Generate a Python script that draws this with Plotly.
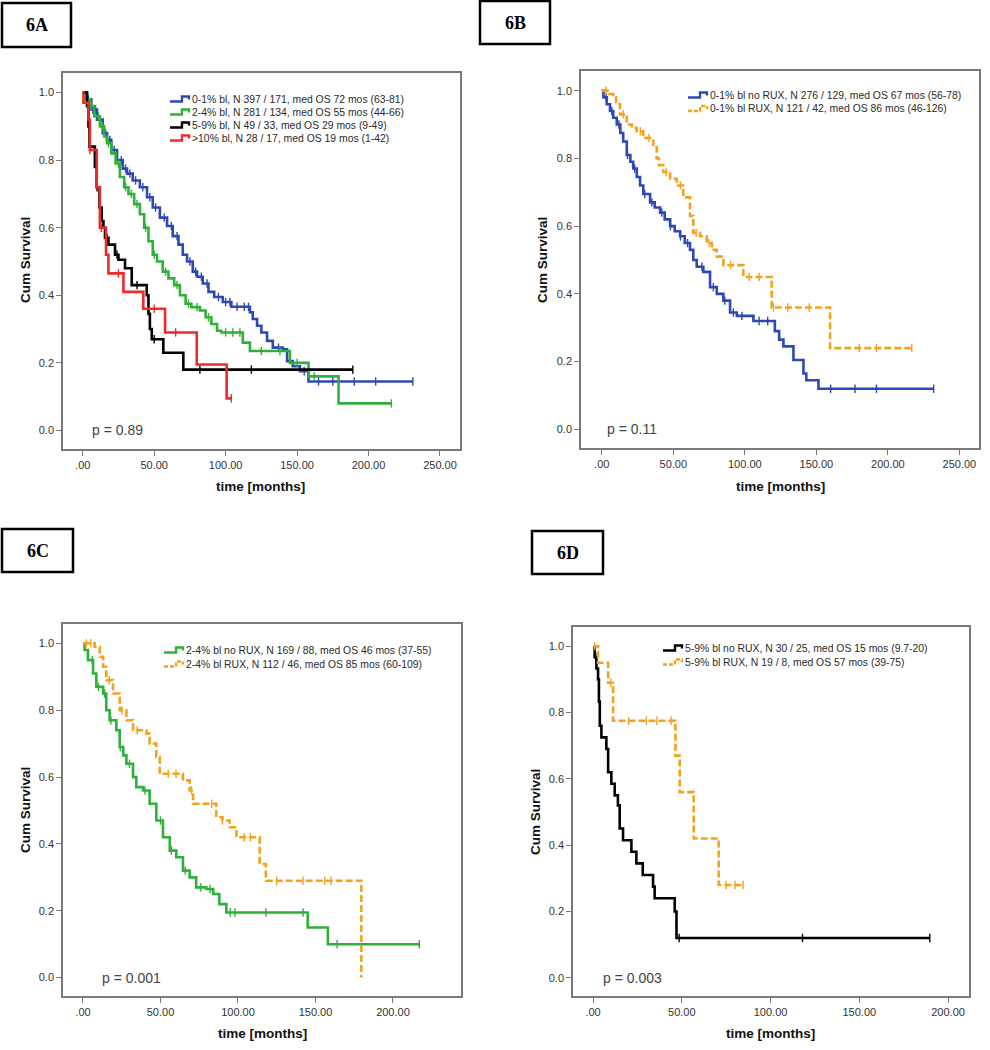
import plotly.graph_objects as go

# ---------------- DATA ----------------
# Panel 6A
a_blue_t = [0, 3, 6, 10, 14, 17, 20, 24, 28, 31, 35, 40, 45, 49, 54, 59, 63, 67, 70, 73, 77, 80, 84, 88, 92, 98, 104, 117, 119, 122, 125, 129, 133, 140, 143, 147, 152, 158, 231]
a_blue_s = [1.0, 0.98, 0.95, 0.92, 0.88, 0.86, 0.83, 0.80, 0.775, 0.76, 0.74, 0.72, 0.69, 0.66, 0.63, 0.605, 0.575, 0.55, 0.52, 0.50, 0.47, 0.455, 0.435, 0.41, 0.395, 0.38, 0.366, 0.35, 0.33, 0.31, 0.29, 0.265, 0.245, 0.24, 0.205, 0.19, 0.175, 0.145, 0.145]
a_blue_c = [4, 7, 9, 12, 16, 19, 22, 27, 30, 33, 37, 42, 47, 51, 57, 62, 66, 75, 79, 83, 87, 95, 100, 103, 108, 113, 116, 137, 155, 165, 175, 190, 205, 231]

a_green_t = [0, 2, 5, 8, 12, 15, 17, 20, 23, 26, 29, 32, 36, 40, 43, 46, 49, 52, 56, 60, 64, 68, 72, 76, 82, 86, 90, 94, 97, 112, 117, 145, 158, 179, 216]
a_green_s = [1.0, 0.98, 0.96, 0.93, 0.90, 0.87, 0.85, 0.82, 0.79, 0.75, 0.72, 0.70, 0.67, 0.64, 0.60, 0.56, 0.52, 0.50, 0.47, 0.45, 0.43, 0.40, 0.375, 0.365, 0.355, 0.335, 0.315, 0.295, 0.29, 0.26, 0.235, 0.20, 0.16, 0.08, 0.08]
a_green_c = [3, 6, 11, 14, 18, 25, 30, 34, 38, 44, 50, 58, 66, 74, 80, 88, 100, 105, 110, 125, 138, 150, 162, 216]

a_black_t = [0, 3, 4, 4.7, 8.5, 9.8, 11.7, 13.3, 14.5, 15.6, 18, 22.6, 25, 29.6, 34.3, 44.8, 46, 47, 48.3, 56.4, 70.4, 189]
a_black_s = [1.0, 0.96, 0.90, 0.84, 0.78, 0.72, 0.66, 0.62, 0.60, 0.57, 0.55, 0.52, 0.505, 0.48, 0.43, 0.40, 0.345, 0.30, 0.27, 0.23, 0.18, 0.18]
a_black_c = [4.3, 10, 17, 24, 38, 50, 82, 118, 189]

a_red_t = [0, 0.5, 4, 5, 9.8, 12, 16.3, 18, 28.5, 42.4, 57.6, 79.8, 100.7, 104]
a_red_s = [1.0, 0.97, 0.92, 0.83, 0.72, 0.60, 0.52, 0.465, 0.41, 0.36, 0.29, 0.195, 0.095, 0.095]
a_red_c = [5, 13, 25, 50, 65, 104]

# Panel 6B
b_blue_t = [0, 1.2, 3.5, 5.8, 8, 10.5, 13, 15, 17.5, 20, 22, 24.5, 26.8, 29, 33.8, 37, 40.8, 44, 47.8, 51, 54.8, 58, 61.7, 64, 66.4, 71, 75.7, 80.4, 85, 89.7, 94.4, 106, 121, 124, 127, 134, 141, 143, 151.5, 232]
b_blue_s = [1.0, 0.98, 0.96, 0.94, 0.92, 0.90, 0.875, 0.85, 0.81, 0.79, 0.77, 0.745, 0.72, 0.695, 0.67, 0.655, 0.64, 0.62, 0.60, 0.585, 0.57, 0.55, 0.53, 0.50, 0.48, 0.465, 0.42, 0.40, 0.38, 0.345, 0.335, 0.32, 0.29, 0.265, 0.245, 0.205, 0.165, 0.145, 0.12, 0.12]
b_blue_c = [3, 7, 12, 18, 23, 30, 35, 42, 48, 55, 60, 70, 78, 86, 92, 98, 110, 116, 160, 177, 192, 232]

b_orange_t = [0, 5, 8, 10, 12.8, 17.5, 21, 24.5, 29, 36, 38.4, 40, 43, 47.8, 52.4, 57, 61.7, 64, 68.7, 73.4, 77, 80.4, 85, 99, 118.8, 159.6, 216.7]
b_orange_s = [1.0, 0.99, 0.98, 0.96, 0.93, 0.90, 0.89, 0.88, 0.86, 0.84, 0.80, 0.78, 0.76, 0.74, 0.72, 0.685, 0.63, 0.58, 0.57, 0.55, 0.53, 0.51, 0.485, 0.45, 0.36, 0.24, 0.24]
b_orange_c = [3, 15, 27, 33, 45, 55, 66, 75, 90, 103, 110, 120, 130, 145, 180, 192, 216.7]

# Panel 6C
c_green_t = [0, 1, 3.2, 6.5, 8.6, 13, 15, 17.2, 21.5, 23.7, 26, 28, 32.3, 34.4, 38.7, 43, 47.3, 51.6, 56, 60.2, 64.5, 68.8, 73, 79.6, 84, 88, 92.5, 145, 158, 217]
c_green_s = [1.0, 0.98, 0.95, 0.91, 0.87, 0.85, 0.80, 0.77, 0.74, 0.69, 0.665, 0.64, 0.60, 0.57, 0.56, 0.52, 0.47, 0.42, 0.38, 0.36, 0.32, 0.30, 0.27, 0.265, 0.25, 0.22, 0.195, 0.15, 0.10, 0.10]
c_green_c = [6, 10, 14, 18, 24, 30, 40, 50, 57, 66, 76, 82, 95, 98, 118, 142, 164, 217]

c_orange_t = [0, 7.5, 10.8, 13, 15, 19.4, 23.7, 28, 32.3, 41, 43, 47.3, 49.5, 64.5, 68.8, 71, 86, 90, 94.6, 99, 114, 118, 179.6]
c_orange_s = [1.0, 0.99, 0.96, 0.93, 0.89, 0.85, 0.80, 0.77, 0.74, 0.73, 0.70, 0.66, 0.61, 0.59, 0.56, 0.52, 0.48, 0.47, 0.45, 0.42, 0.34, 0.29, 0.0]
c_orange_c = [2, 5, 17, 25, 35, 55, 60, 70, 83, 90, 104, 108, 125, 142, 156, 160]

# Panel 6D
d_black_t = [0, 0.9, 1.9, 2.8, 3.3, 3.8, 4.7, 7.5, 8.5, 10.3, 12.2, 14, 15, 16.9, 21.6, 24.4, 28, 33.8, 34.7, 46, 47, 189.7]
d_black_s = [1.0, 0.967, 0.933, 0.90, 0.833, 0.76, 0.725, 0.69, 0.62, 0.585, 0.55, 0.52, 0.45, 0.415, 0.38, 0.345, 0.31, 0.275, 0.24, 0.20, 0.12, 0.12]
d_black_c = [1.5, 48.5, 118, 189.7]

d_orange_t = [0, 2.8, 8.5, 11.3, 46.4, 48.8, 56.7, 70.8, 84.5]
d_orange_s = [1.0, 0.95, 0.89, 0.775, 0.67, 0.56, 0.42, 0.28, 0.28]
d_orange_c = [1, 10, 20, 30, 36, 44, 75, 80, 84.5]

legend_a = ["0-1% bl, N 397 / 171, med OS 72 mos (63-81)",
            "2-4% bl, N 281 / 134, med OS 55 mos (44-66)",
            "5-9% bl, N 49 / 33, med OS 29 mos (9-49)",
            ">10% bl, N 28 / 17, med OS 19 mos (1-42)"]
legend_b = ["0-1% bl no RUX, N 276 / 129, med OS 67 mos (56-78)",
            "0-1% bl RUX, N 121 / 42, med OS 86 mos (46-126)"]
legend_c = ["2-4% bl no RUX, N 169 / 88, med OS 46 mos (37-55)",
            "2-4% bl RUX, N 112 / 46, med OS 85 mos (60-109)"]
legend_d = ["5-9% bl no RUX, N 30 / 25, med OS 15 mos (9.7-20)",
            "5-9% bl RUX, N 19 / 8, med OS 57 mos (39-75)"]

panel_labels = ["6A", "6B", "6C", "6D"]
p_values = ["p = 0.89", "p = 0.11", "p = 0.001", "p = 0.003"]
x_ticks_250 = [0, 50, 100, 150, 200, 250]
x_ticktext_250 = [".00", "50.00", "100.00", "150.00", "200.00", "250.00"]
x_ticks_200 = [0, 50, 100, 150, 200]
x_ticktext_200 = [".00", "50.00", "100.00", "150.00", "200.00"]
y_ticks = [0.0, 0.2, 0.4, 0.6, 0.8, 1.0]

# ---------------- STYLE ----------------
BLUE = "#2f48b4"
GREEN = "#2fb03a"
BLACK = "#000000"
RED = "#ee2a2a"
ORANGE = "#f3a21f"
DASH = "7px,3px"
W, H = 990, 1050
SANS = "Liberation Sans, Arial, sans-serif"


def surv_at(ts, ss, c):
    idx = 0
    for i, t in enumerate(ts):
        if t <= c:
            idx = i
    return ss[idx]


fig = go.Figure()

panels = [
    dict(ax="", icon_x=170, text_x=190, rows=[99, 112, 125, 138],
         curves=[(a_blue_t, a_blue_s, a_blue_c, BLUE, "solid", legend_a[0]),
                 (a_green_t, a_green_s, a_green_c, GREEN, "solid", legend_a[1]),
                 (a_black_t, a_black_s, a_black_c, BLACK, "solid", legend_a[2]),
                 (a_red_t, a_red_s, a_red_c, RED, "solid", legend_a[3])]),
    dict(ax="2", icon_x=688, text_x=708, rows=[95, 108.5],
         curves=[(b_blue_t, b_blue_s, b_blue_c, BLUE, "solid", legend_b[0]),
                 (b_orange_t, b_orange_s, b_orange_c, ORANGE, DASH, legend_b[1])]),
    dict(ax="3", icon_x=164, text_x=184, rows=[650, 664],
         curves=[(c_green_t, c_green_s, c_green_c, GREEN, "solid", legend_c[0]),
                 (c_orange_t, c_orange_s, c_orange_c, ORANGE, DASH, legend_c[1])]),
    dict(ax="4", icon_x=663, text_x=683, rows=[648, 662],
         curves=[(d_black_t, d_black_s, d_black_c, BLACK, "solid", legend_d[0]),
                 (d_orange_t, d_orange_s, d_orange_c, ORANGE, DASH, legend_d[1])]),
]

ann = []
shapes = []

for p in panels:
    xa, ya = "x" + p["ax"], "y" + p["ax"]
    for (ts, ss, cs, col, dash, name), row in zip(p["curves"], p["rows"]):
        fig.add_trace(go.Scatter(x=ts, y=ss, mode="lines", line=dict(color=col, width=2.6, dash=dash, shape="hv"),
                                 name=name, xaxis=xa, yaxis=ya, showlegend=False, hoverinfo="skip"))
        fig.add_trace(go.Scatter(x=cs, y=[surv_at(ts, ss, c) for c in cs], mode="markers",
                                 marker=dict(symbol="line-ns", size=6, line=dict(color=col, width=1.4)),
                                 showlegend=False, xaxis=xa, yaxis=ya, hoverinfo="skip"))
        # legend entry: small step icon + text
        x0 = p["icon_x"]
        ylo, yhi = row + 2.5, row - 2.5
        path = "M {:.4f},{:.4f} L {:.4f},{:.4f} L {:.4f},{:.4f} L {:.4f},{:.4f} L {:.4f},{:.4f}".format(
            x0 / W, 1 - ylo / H, (x0 + 12) / W, 1 - ylo / H, (x0 + 12) / W, 1 - yhi / H,
            (x0 + 19) / W, 1 - yhi / H, (x0 + 19) / W, 1 - (row + 0.5) / H)
        shapes.append(dict(type="path", path=path, xref="paper", yref="paper",
                           line=dict(color=col, width=2.4, dash="4px,2px" if dash != "solid" else "solid")))
        ann.append(dict(x=p["text_x"] / W, y=1 - row / H, xref="paper", yref="paper", text=name,
                        showarrow=False, xanchor="left", yanchor="middle",
                        font=dict(family=SANS, size=10.4, color="#2a2a2a")))


def xd(a, b):
    return [a / W, b / W]


def yd(top, bottom):
    return [1 - bottom / H, 1 - top / H]


frames = {
    "": dict(x=xd(63, 460), y=yd(73, 449), xr=[-13.8, 264], ticks=(x_ticks_250, x_ticktext_250)),
    "2": dict(x=xd(581, 979), y=yd(71, 448), xr=[-14.5, 263.7], ticks=(x_ticks_250, x_ticktext_250)),
    "3": dict(x=xd(63, 461), y=yd(624, 996), xr=[-12.9, 243.9], ticks=(x_ticks_200, x_ticktext_200)),
    "4": dict(x=xd(573, 969), y=yd(627, 996), xr=[-11.3, 211.8], ticks=(x_ticks_200, x_ticktext_200)),
}

tickfont = dict(family=SANS, size=11, color="#333333")
layout = {}
for k, f in frames.items():
    layout["xaxis" + k] = dict(domain=f["x"], range=f["xr"], anchor="y" + k, tickvals=f["ticks"][0],
                              ticktext=f["ticks"][1], ticks="outside", ticklen=5, tickcolor="#777777",
                              showline=True, mirror=True, linecolor="#7a7a7a", linewidth=1.5,
                              showgrid=False, zeroline=False, tickfont=tickfont, fixedrange=True)
    layout["yaxis" + k] = dict(domain=f["y"], range=[-0.055, 1.058], anchor="x" + k, tickvals=y_ticks,
                              tickformat=".1f", ticks="outside", ticklen=5, tickcolor="#777777",
                              showline=True, mirror=True, linecolor="#7a7a7a", linewidth=1.5,
                              showgrid=False, zeroline=False, tickfont=tickfont, fixedrange=True)
fig.update_layout(**layout)

# axis titles, p-values, panel label boxes
titlefont = dict(family=SANS, size=13.5, color="#111111")
ytitle_pos = [(25, 260), (542, 260), (25, 810), (535, 812)]
xtitle_pos = [(260, 486), (780, 486), (262, 1033), (770, 1033)]
for (x, y) in ytitle_pos:
    ann.append(dict(x=x / W, y=1 - y / H, xref="paper", yref="paper", text="<b>Cum Survival</b>",
                    textangle=-90, showarrow=False, font=titlefont, xanchor="center", yanchor="middle"))
for (x, y) in xtitle_pos:
    ann.append(dict(x=x / W, y=1 - y / H, xref="paper", yref="paper", text="<b>time [months]</b>",
                    showarrow=False, font=titlefont, xanchor="center", yanchor="middle"))

p_pos = [("", 5, 0.0), ("2", 2.3, 0.0), ("3", 10.8, 0.0), ("4", 4.7, 0.0)]
for (k, x, y), txt in zip(p_pos, p_values):
    ann.append(dict(x=x, y=y, xref="x" + k, yref="y" + k, text=txt, showarrow=False, xanchor="left",
                    yanchor="middle", font=dict(family=SANS, size=14, color="#444444")))

boxes = [(2, 3, 71, 47), (480, 1, 550, 44), (2, 529, 73, 572), (532, 531, 603, 574)]
for (x0, y0, x1, y1), lab in zip(boxes, panel_labels):
    shapes.append(dict(type="rect", xref="paper", yref="paper", x0=x0 / W, x1=x1 / W,
                       y0=1 - y1 / H, y1=1 - y0 / H, line=dict(color="black", width=2.5)))
    ann.append(dict(x=(x0 + x1) / 2 / W, y=1 - (y0 + y1) / 2 / H, xref="paper", yref="paper",
                    text="<b>" + lab + "</b>", showarrow=False, xanchor="center", yanchor="middle",
                    font=dict(family="Liberation Serif, Times New Roman, serif", size=18, color="black")))

fig.update_layout(annotations=ann, shapes=shapes, width=W, height=H,
                  margin=dict(l=0, r=0, t=0, b=0), paper_bgcolor="white", plot_bgcolor="white",
                  showlegend=False)

fig.write_html("out.html", config={"displayModeBar": False},
               post_script="document.body.style.margin='0';document.body.style.overflow='hidden';")
